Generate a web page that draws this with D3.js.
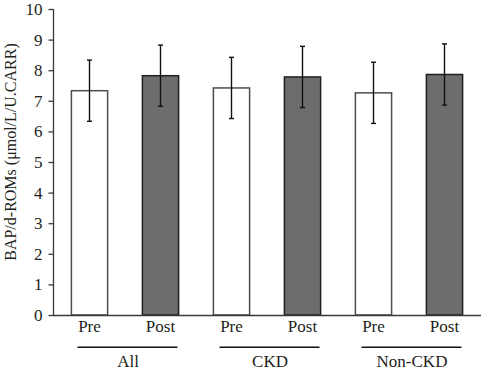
<!DOCTYPE html>
<html>
<head>
<meta charset="utf-8">
<script src="https://d3js.org/d3.v7.min.js"></script>
<style>
  body { margin: 0; background: #fff; }
  text { font-family: "Liberation Serif", "DejaVu Serif", serif; fill: #231f20; }
</style>
</head>
<body>
<script>
  // chart data
  var groups = ["All", "CKD", "Non-CKD"];
  var phases = ["Pre", "Post"];
  var means = [7.33, 7.82, 7.42, 7.78, 7.26, 7.86];
  var errs = [1.0, 1.0, 1.0, 1.0, 1.0, 1.0];
  var yTicks = [0, 1, 2, 3, 4, 5, 6, 7, 8, 9, 10];

  var W = 481, H = 370;
  var svg = d3.select("body").append("svg").attr("width", W).attr("height", H);

  var keys = [];
  groups.forEach(function (g) { phases.forEach(function (p) { keys.push(g + "|" + p); }); });
  var data = keys.map(function (k, i) {
    return { key: k, group: k.split("|")[0], phase: k.split("|")[1], mean: means[i], err: errs[i] };
  });

  var x = d3.scaleBand().domain(keys).range([54, 480]).paddingInner(0.49).paddingOuter(0.245);
  var y = d3.scaleLinear().domain([0, 10]).range([315, 9]);

  // y axis
  var yAxis = svg.append("g")
      .attr("transform", "translate(53.5,0)")
      .call(d3.axisLeft(y).tickValues(yTicks).tickSize(5).tickPadding(6));
  yAxis.selectAll("path, line").attr("stroke", "#3a3a3a").attr("stroke-width", 1.3);
  yAxis.select(".domain").attr("d", "M0," + y(10) + "V" + y(0));
  yAxis.selectAll("text").style("font-family", "Liberation Serif").style("font-size", "17px").attr("fill", "#231f20");

  svg.append("text")
      .attr("transform", "translate(16," + 152 + ") rotate(-90)")
      .attr("text-anchor", "middle")
      .style("font-size", "16px")
      .text("BAP/d-ROMs (μmol/L/U.CARR)");

  // bars
  svg.selectAll(".bar").data(data).enter().append("rect")
      .attr("class", "bar")
      .attr("x", function (d) { return x(d.key); })
      .attr("y", function (d) { return y(d.mean); })
      .attr("width", x.bandwidth())
      .attr("height", function (d) { return y(0) - y(d.mean); })
      .attr("fill", function (d) { return d.phase === "Pre" ? "#ffffff" : "#6d6d6d"; })
      .attr("stroke", function (d) { return d.phase === "Pre" ? "#4d4d4d" : "#1f1f1f"; })
      .attr("stroke-width", 1.5);

  // error bars
  var eb = svg.selectAll(".err").data(data).enter().append("g").attr("class", "err")
      .attr("stroke", "#111").attr("stroke-width", 1.4);
  var cx = function (d) { return x(d.key) + x.bandwidth() / 2; };
  eb.append("line")
      .attr("x1", cx).attr("x2", cx)
      .attr("y1", function (d) { return y(d.mean + d.err); })
      .attr("y2", function (d) { return y(d.mean - d.err); });
  eb.append("line")
      .attr("x1", function (d) { return cx(d) - 2.5; }).attr("x2", function (d) { return cx(d) + 2.5; })
      .attr("y1", function (d) { return y(d.mean + d.err); })
      .attr("y2", function (d) { return y(d.mean + d.err); });
  eb.append("line")
      .attr("x1", function (d) { return cx(d) - 2.5; }).attr("x2", function (d) { return cx(d) + 2.5; })
      .attr("y1", function (d) { return y(d.mean - d.err); })
      .attr("y2", function (d) { return y(d.mean - d.err); });

  // x axis line
  svg.append("line")
      .attr("x1", 53).attr("x2", W)
      .attr("y1", y(0) + 0.5).attr("y2", y(0) + 0.5)
      .attr("stroke", "#3a3a3a").attr("stroke-width", 1.5);

  // phase labels
  svg.selectAll(".phase").data(data).enter().append("text")
      .attr("x", cx)
      .attr("y", 332)
      .attr("text-anchor", "middle")
      .style("font-size", "17px")
      .text(function (d) { return d.phase; });

  // group underline + label
  groups.forEach(function (g) {
    var a = x(g + "|Pre") + x.bandwidth() / 2, b = x(g + "|Post") + x.bandwidth() / 2;
    svg.append("line")
        .attr("x1", a - 12).attr("x2", b + 17)
        .attr("y1", 347.3).attr("y2", 347.3)
        .attr("stroke", "#111").attr("stroke-width", 1.4);
    svg.append("text")
        .attr("x", (a + b) / 2 + 3)
        .attr("y", 367)
        .attr("text-anchor", "middle")
        .style("font-size", "17px")
        .text(g);
  });
</script>
</body>
</html>
